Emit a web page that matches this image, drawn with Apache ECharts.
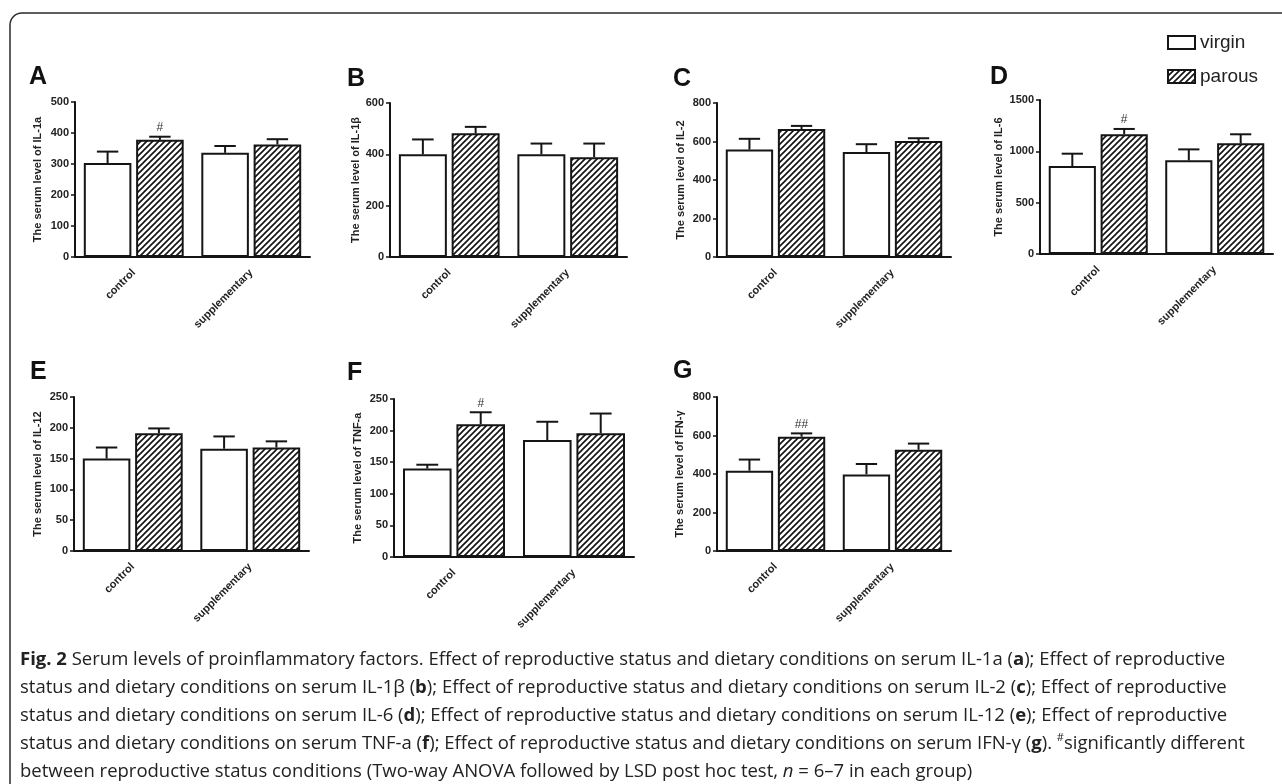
<!DOCTYPE html>
<html>
<head>
<meta charset="utf-8">
<script src="https://cdn.jsdelivr.net/npm/echarts@6.0.0/dist/echarts.min.js"></script>
<style>
  html, body { margin: 0; background: #fff; }
  #chart { width: 1282px; height: 784px; }
</style>
</head>
<body>
<div id="chart"></div>
<script>
// values (mean and upper error bar length)
const categories = ['control', 'supplementary'];
const panelLetters = ['A', 'B', 'C', 'D', 'E', 'F', 'G'];
const panelNames = ['IL-1a', 'IL-1β', 'IL-2', 'IL-6', 'IL-12', 'TNF-a', 'IFN-γ'];
const virginMean = [[303, 336], [400, 400], [558, 545], [857, 912], [150, 166], [140, 185], [417, 398]];
const virginSem = [[37, 22], [58, 42], [56, 41], [120, 107], [18, 20], [6, 29], [58, 54]];
const parousMean = [[378, 363], [482, 389], [665, 602], [1166, 1078], [191, 168], [210, 196], [594, 526]];
const parousSem = [[10, 17], [25, 53], [16, 15], [52, 88], [8, 10], [19, 31], [17, 32]];
const parousMarks = [['#', ''], ['', ''], ['', ''], ['#', ''], ['', ''], ['#', ''], ['##', '']];
const yMax = [500, 600, 800, 1500, 250, 250, 800];
const yStep = [100, 200, 200, 500, 50, 50, 200];

// layout of the seven panels: [left, top, width, height] of plot area
const boxes = [
    [75, 102, 235, 155], [390, 103, 237, 154], [717, 103, 234, 154], [1040, 100, 233, 154],
    [74, 397, 235, 154], [394, 399, 240, 158], [717, 397, 234, 154]
];
const nameGaps = [32, 27, 31, 36, 31, 31, 32];
const letterPos = [[29, 65], [347, 67], [673, 67], [990, 65], [30, 360], [347, 361], [673, 359]];

const FONT = "'Liberation Sans', Arial, sans-serif";
const CAP_FONT = "'Open Sans', sans-serif";
const INK = '#151515';

// diagonal hatch for the parous bars
const hatch = document.createElement('canvas');
hatch.width = 6; hatch.height = 6;
(function () {
    const c = hatch.getContext('2d');
    c.strokeStyle = '#111';
    c.lineWidth = 1.6;
    c.beginPath();
    c.moveTo(0, 6); c.lineTo(6, 0);
    c.moveTo(-1, 1); c.lineTo(1, -1);
    c.moveTo(5, 7); c.lineTo(7, 5);
    c.stroke();
})();

const grids = [], xAxes = [], yAxes = [], series = [], graphics = [];

boxes.forEach((b, i) => {
    grids.push({ left: b[0], top: b[1], width: b[2], height: b[3], containLabel: false });

    xAxes.push({
        type: 'category', gridIndex: i, data: categories,
        axisLine: { lineStyle: { color: INK, width: 2 } },
        axisTick: { alignWithLabel: true, length: 4, lineStyle: { color: INK, width: 1.5 } },
        axisLabel: { rotate: 45, margin: 14, color: '#222', fontSize: 11, fontWeight: 'bold', fontFamily: FONT }
    });

    yAxes.push({
        type: 'value', gridIndex: i, min: 0, max: yMax[i], interval: yStep[i],
        name: 'The serum level of ' + panelNames[i],
        nameLocation: 'middle', nameGap: nameGaps[i],
        nameTextStyle: { color: '#222', fontSize: 11, fontWeight: 'bold', fontFamily: FONT },
        axisLine: { show: true, lineStyle: { color: INK, width: 2 } },
        axisTick: { show: true, length: 4, lineStyle: { color: INK, width: 1.5 } },
        axisLabel: { margin: 6, color: '#222', fontSize: 11, fontWeight: 'bold', fontFamily: FONT,
                     formatter: v => String(v) },
        splitLine: { show: false }
    });

    series.push({
        type: 'bar', name: 'virgin', xAxisIndex: i, yAxisIndex: i,
        data: virginMean[i], barGap: '10%', barCategoryGap: '15%',
        itemStyle: { color: '#fff', borderColor: INK, borderWidth: 2 },
        emphasis: { disabled: true }, z: 2
    });
    series.push({
        type: 'bar', name: 'parous', xAxisIndex: i, yAxisIndex: i,
        data: parousMean[i], barGap: '10%', barCategoryGap: '15%',
        itemStyle: { color: { image: hatch, repeat: 'repeat' }, borderColor: INK, borderWidth: 2 },
        emphasis: { disabled: true }, z: 2
    });

    const errData = [];
    categories.forEach((c, k) => {
        errData.push([k, virginMean[i][k], virginSem[i][k], 0]);
        errData.push([k, parousMean[i][k], parousSem[i][k], 1]);
    });
    series.push({
        type: 'custom', xAxisIndex: i, yAxisIndex: i, data: errData, z: 3,
        encode: { x: 0, y: 1 }, silent: true,
        renderItem: (params, api) => {
            const cat = api.value(0), mean = api.value(1), sem = api.value(2), which = api.value(3);
            const band = api.size([1, 0])[0];
            const w = band * 0.85 / 2.1;
            const x = api.coord([cat, 0])[0] + (which ? 1 : -1) * w * 0.55;
            const yTop = api.coord([cat, mean])[1];
            const yErr = api.coord([cat, mean + sem])[1];
            const half = w * 0.225;
            const children = [
                { type: 'line', shape: { x1: x, y1: yTop, x2: x, y2: yErr }, style: { stroke: INK, lineWidth: 2 } },
                { type: 'line', shape: { x1: x - half, y1: yErr, x2: x + half, y2: yErr }, style: { stroke: INK, lineWidth: 2 } }
            ];
            const m = which ? parousMarks[i][cat] : '';
            if (m) {
                children.push({
                    type: 'text',
                    style: { text: m, x: x, y: yErr - 3, align: 'center', verticalAlign: 'bottom',
                             fontSize: 12, fontFamily: FONT, fill: '#333' }
                });
            }
            return { type: 'group', children: children };
        }
    });

    graphics.push({
        type: 'text', left: letterPos[i][0], top: letterPos[i][1],
        style: { text: panelLetters[i], fontSize: 25, fontWeight: 'bold', fontFamily: FONT, fill: '#111' }
    });
});

// frame round the figure and caption
graphics.push({
    type: 'rect', shape: { x: 10, y: 13, width: 1320, height: 820, r: [12, 0, 0, 0] },
    style: { fill: 'none', stroke: '#2a2a2a', lineWidth: 1.5 }, z: -1
});

const captionLines = [
    '{b|Fig. 2} Serum levels of proinflammatory factors. Effect of reproductive status and dietary conditions on serum IL-1a ({b|a}); Effect of reproductive',
    'status and dietary conditions on serum IL-1β ({b|b}); Effect of reproductive status and dietary conditions on serum IL-2 ({b|c}); Effect of reproductive',
    'status and dietary conditions on serum IL-6 ({b|d}); Effect of reproductive status and dietary conditions on serum IL-12 ({b|e}); Effect of reproductive',
    'status and dietary conditions on serum TNF-a ({b|f}); Effect of reproductive status and dietary conditions on serum IFN-γ ({b|g}). {s|#}significantly different',
    'between reproductive status conditions (Two-way ANOVA followed by LSD post hoc test, {i|n} = 6–7 in each group)'
];
captionLines.forEach((t, k) => {
    graphics.push({
        type: 'text', x: 20, y: 660 + k * 28,
        style: {
            text: t, fontSize: 18.5, fontFamily: CAP_FONT, fill: '#222',
            verticalAlign: 'middle', lineHeight: 24,
            rich: {
                b: { fontSize: 18.5, fontWeight: 'bold', fontFamily: CAP_FONT, fill: '#222' },
                i: { fontSize: 18.5, fontStyle: 'italic', fontFamily: CAP_FONT, fill: '#222' },
                s: { fontSize: 11, fontFamily: CAP_FONT, fill: '#222', verticalAlign: 'top', lineHeight: 12 }
            }
        }
    });
});

const chart = echarts.init(document.getElementById('chart'));
chart.setOption({
    backgroundColor: '#fff',
    animation: false,
    legend: {
        data: ['virgin', 'parous'], orient: 'vertical', left: 1162, top: 28,
        itemWidth: 27, itemHeight: 13, itemGap: 15, icon: 'rect',
        itemStyle: { borderColor: INK, borderWidth: 2 },
        textStyle: { fontSize: 19, color: '#222', fontFamily: "'Liberation Sans Narrow', 'Arial Narrow', sans-serif" }
    },
    grid: grids,
    xAxis: xAxes,
    yAxis: yAxes,
    series: series,
    graphic: graphics
});
</script>
</body>
</html>
